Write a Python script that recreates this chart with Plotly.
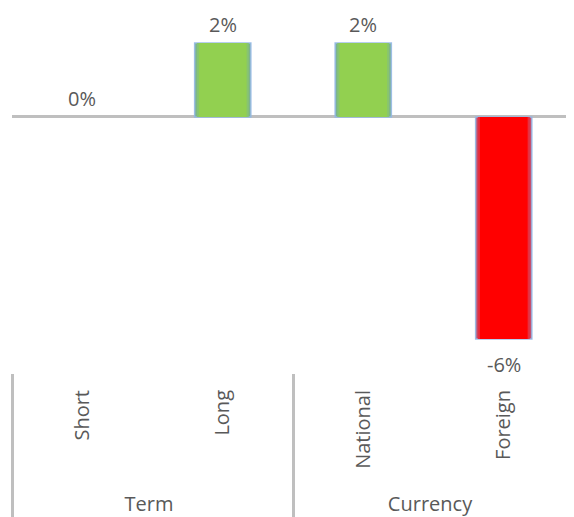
import plotly.graph_objects as go

# data
groups = ["Term", "Term", "Currency", "Currency"]
categories = ["Short", "Long", "National", "Foreign"]
values = [0.0, 2.0, 2.0, -6.0]
labels = ["0%", "2%", "2%", "-6%"]
bar_colors = ["#92D050", "#92D050", "#92D050", "#FF0000"]
glow_colors = ["#7CB38E", "#7CB38E", "#7CB38E", "#C4506E"]
mid_colors = ["#88C470", "#88C470", "#88C470", "#E63040"]

font_color = "#595959"
grid_gray = "#BFBFBF"

# no outline on an empty (zero) bar
edge_widths = [0 if v == 0 else 1.5 for v in values]
# leading no-break spaces push the group row further down, like the original
cat_labels = ["\u00a0" * 3 + c for c in categories]
xcats = [groups, cat_labels]

fig = go.Figure()
# soft "glow" edge: a few overlaid bars getting narrower towards the core colour
fig.add_trace(go.Bar(
    x=xcats, y=values, width=0.4,
    marker=dict(color=glow_colors,
                line=dict(color="rgba(150,185,230,0.9)", width=edge_widths)),
    hoverinfo="skip",
))
fig.add_trace(go.Bar(
    x=xcats, y=values, width=0.37,
    marker=dict(color=mid_colors, line=dict(width=0)),
    hoverinfo="skip",
))
fig.add_trace(go.Bar(
    x=xcats, y=values, width=0.34,
    marker=dict(color=bar_colors, line=dict(width=0)),
    hoverinfo="skip",
))

# data labels: above positive bars, below negative ones
for i, (v, txt) in enumerate(zip(values, labels)):
    fig.add_annotation(
        x=i, y=v, text=txt, showarrow=False,
        xref="x", yref="y",
        yanchor="bottom" if v >= 0 else "top",
        yshift=3 if v >= 0 else -10,
        font=dict(size=20, color=font_color),
    )

# the page body has an 8px margin, so the figure is a bit smaller than the window
fig.update_layout(
    width=566, height=509,
    margin=dict(l=4, r=0, t=2, b=144),
    barmode="overlay",
    paper_bgcolor="white",
    plot_bgcolor="white",
    showlegend=False,
    font=dict(family="Open Sans, Liberation Sans, sans-serif", size=20, color=font_color),
)
fig.update_xaxes(
    type="multicategory",
    automargin=False,
    tickangle=-90,
    showline=False,
    showgrid=False,
    ticks="",
    ticklabelstandoff=12,
    showdividers=True,
    dividercolor=grid_gray,
    dividerwidth=3,
    tickfont=dict(size=20, color=font_color),
)
fig.update_yaxes(
    automargin=False,
    range=[-6.92, 2.89],
    showgrid=False,
    showticklabels=False,
    zeroline=True,
    zerolinecolor=grid_gray,
    zerolinewidth=3,
    showline=False,
)

fig.write_html("out.html")
